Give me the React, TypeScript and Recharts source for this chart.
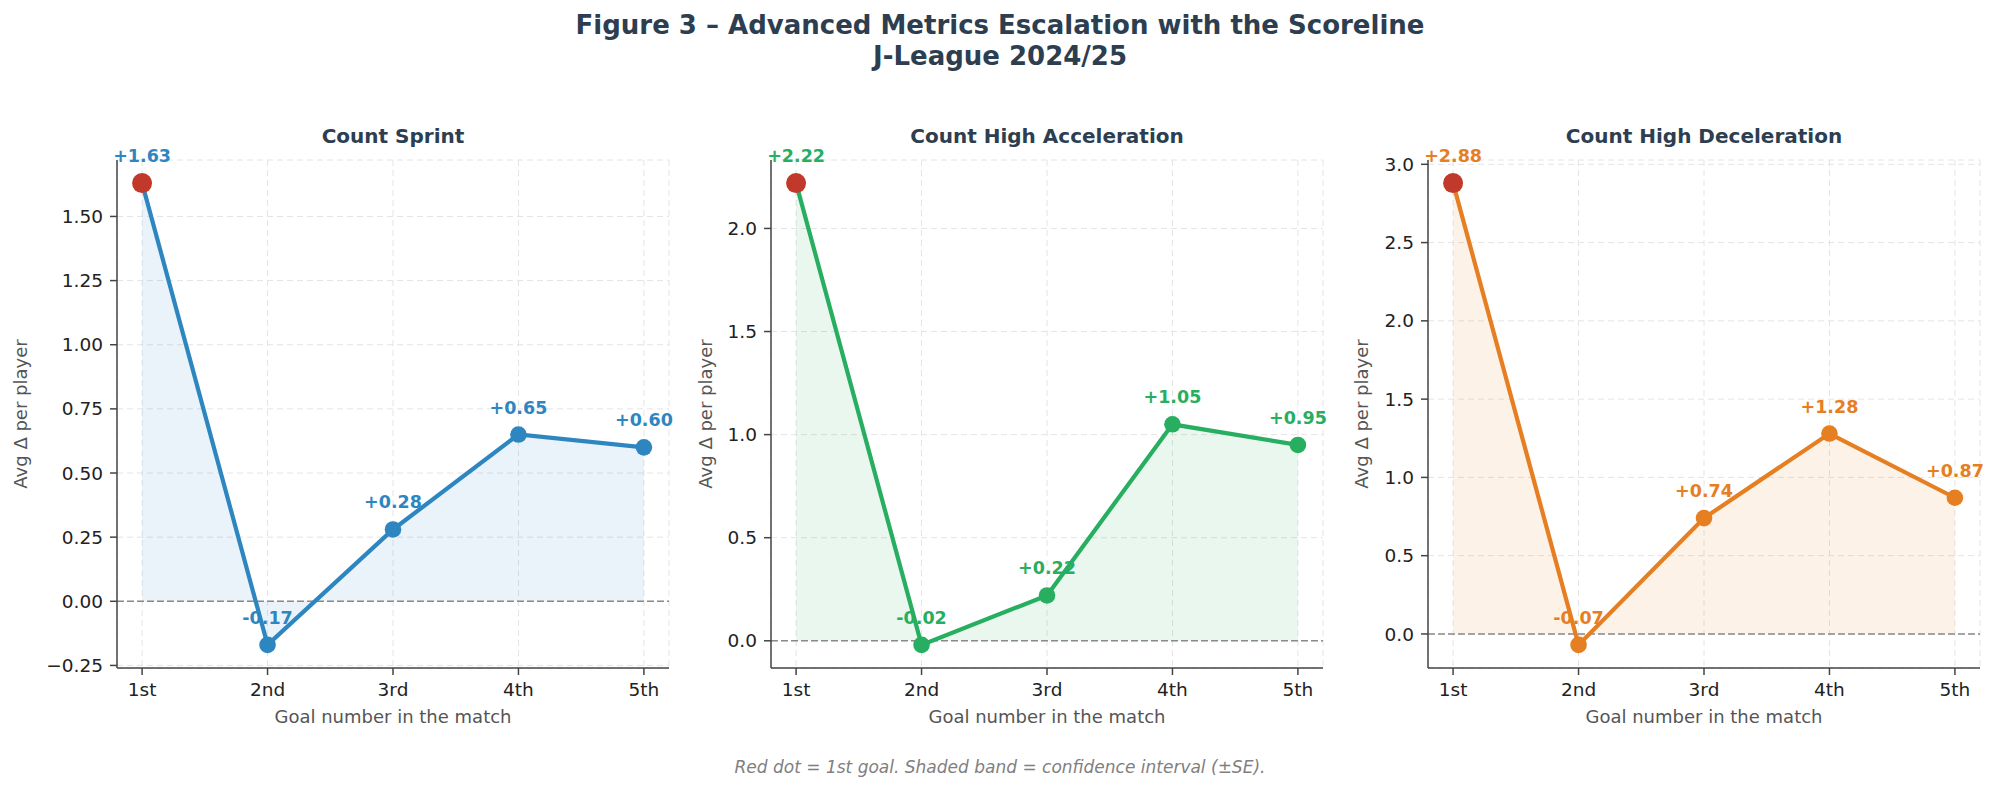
import React from 'react';
import { ComposedChart, Line, Area, XAxis, YAxis, CartesianGrid, ReferenceLine, LabelList } from 'recharts';

const goals = ['1st', '2nd', '3rd', '4th', '5th'];
const sprint = [1.63, -0.17, 0.28, 0.65, 0.6];
const highAccel = [2.22, -0.02, 0.22, 1.05, 0.95];
const highDecel = [2.88, -0.07, 0.74, 1.28, 0.87];

const sprintTicks = [-0.25, 0, 0.25, 0.5, 0.75, 1.0, 1.25, 1.5];
const accelTicks = [0, 0.5, 1.0, 1.5, 2.0];
const decelTicks = [0, 0.5, 1.0, 1.5, 2.0, 2.5, 3.0];

const FONT = '"DejaVu Sans", Verdana, sans-serif';
const RED = '#c0392b';
const NAVY = '#2c3e50';

const panels = [
  { title: 'Count Sprint', values: sprint, ticks: sprintTicks, decimals: 2, color: '#2e86c1', left: 117, labelX: 27 },
  { title: 'Count High Acceleration', values: highAccel, ticks: accelTicks, decimals: 1, color: '#27ae60', left: 771, labelX: 712 },
  { title: 'Count High Deceleration', values: highDecel, ticks: decelTicks, decimals: 1, color: '#e67e22', left: 1428, labelX: 1368 },
];

// plot box shared by the three panels
const PLOT_TOP = 160;
const PLOT_W = 552;
const PLOT_H = 508;
const Y_W = 110;
const M_TOP = 40;
const M_RIGHT = 18;
const X_H = 45;

const fmtTick = (d: number) => (v: number) => v.toFixed(d).replace('-', '\u2212');
const fmtDelta = (v: number) => (v >= 0 ? `+${v.toFixed(2)}` : v.toFixed(2));

const Panel = ({ p }: { p: (typeof panels)[number] }) => {
  const data = p.values.map((v, i) => ({ i, v }));
  const lo = Math.min(0, ...p.values);
  const hi = Math.max(0, ...p.values);
  const pad = (hi - lo) * 0.05;

  const renderDot = (props: any) => {
    const { cx, cy, index } = props;
    if (index === 0) return <circle key={`d${index}`} cx={cx} cy={cy} r={10} fill={RED} />;
    return <circle key={`d${index}`} cx={cx} cy={cy} r={8.3} fill={p.color} />;
  };

  const renderLabel = (props: any) => {
    const { x, y, value, index } = props;
    return (
      <text key={`l${index}`} x={x} y={y - 21} textAnchor="middle" fontSize={17.5} fontWeight="bold" fill={p.color} fontFamily={FONT}>
        {fmtDelta(value)}
      </text>
    );
  };

  return (
    <div style={{ position: 'absolute', left: p.left - Y_W, top: PLOT_TOP - M_TOP }}>
      <ComposedChart
        width={Y_W + PLOT_W + M_RIGHT}
        height={M_TOP + PLOT_H + X_H}
        data={data}
        margin={{ top: M_TOP, right: M_RIGHT, bottom: 0, left: 0 }}
      >
        <CartesianGrid stroke="#e4e4e4" strokeDasharray="6 4" />
        <XAxis
          dataKey="i"
          type="number"
          domain={[-0.2, 4.2]}
          ticks={[0, 1, 2, 3, 4]}
          interval={0}
          allowDataOverflow
          tickFormatter={(i: number) => goals[i]}
          height={X_H}
          stroke="#444"
          strokeWidth={1.5}
          tickSize={7}
          tickMargin={8}
          tick={{ fontSize: 18.5, fill: '#222', fontFamily: FONT }}
        />
        <YAxis
          type="number"
          domain={[lo - pad, hi + pad]}
          ticks={p.ticks}
          interval={0}
          allowDataOverflow
          tickFormatter={fmtTick(p.decimals)}
          width={Y_W}
          stroke="#444"
          strokeWidth={1.5}
          tickSize={7}
          tickMargin={7}
          tick={{ fontSize: 18.5, fill: '#222', fontFamily: FONT }}
        />
        <Area
          dataKey="v"
          type="linear"
          baseValue={0}
          fill={p.color}
          fillOpacity={0.1}
          stroke="none"
          isAnimationActive={false}
        />
        <ReferenceLine y={0} stroke="#8a8a8a" strokeDasharray="7 3" strokeWidth={1.5} />
        <Line
          dataKey="v"
          type="linear"
          stroke={p.color}
          strokeWidth={4.2}
          dot={renderDot}
          activeDot={false}
          isAnimationActive={false}
        >
          <LabelList dataKey="v" content={renderLabel} />
        </Line>
      </ComposedChart>
    </div>
  );
};

export default function App() {
  const midY = PLOT_TOP + PLOT_H / 2;
  return (
    <div style={{ position: 'absolute', left: 0, top: 0, width: 1999, height: 789, overflow: 'hidden', background: '#fff', fontFamily: FONT }}>
      <svg width={1999} height={789} style={{ position: 'absolute', left: 0, top: 0 }}>
        <text x={1000} y={34} textAnchor="middle" fontSize={26} fontWeight="bold" fill={NAVY} fontFamily={FONT}>
          Figure 3 – Advanced Metrics Escalation with the Scoreline
        </text>
        <text x={1000} y={65} textAnchor="middle" fontSize={26} fontWeight="bold" fill={NAVY} fontFamily={FONT}>
          J-League 2024/25
        </text>
        {panels.map((p) => (
          <g key={p.title}>
            <text x={p.left + PLOT_W / 2} y={143} textAnchor="middle" fontSize={20} fontWeight="bold" fill={NAVY} fontFamily={FONT}>
              {p.title}
            </text>
            <text x={p.left + PLOT_W / 2} y={723} textAnchor="middle" fontSize={18} fill="#555" fontFamily={FONT}>
              Goal number in the match
            </text>
            <text
              x={p.labelX}
              y={midY}
              textAnchor="middle"
              fontSize={18}
              fill="#555"
              fontFamily={FONT}
              transform={`rotate(-90 ${p.labelX} ${midY})`}
            >
              Avg Δ per player
            </text>
          </g>
        ))}
        <text x={1000} y={773} textAnchor="middle" fontSize={17} fontStyle="italic" fill="#808080" fontFamily={FONT}>
          Red dot = 1st goal. Shaded band = confidence interval (±SE).
        </text>
      </svg>
      {panels.map((p) => (
        <Panel key={p.title} p={p} />
      ))}
    </div>
  );
}
